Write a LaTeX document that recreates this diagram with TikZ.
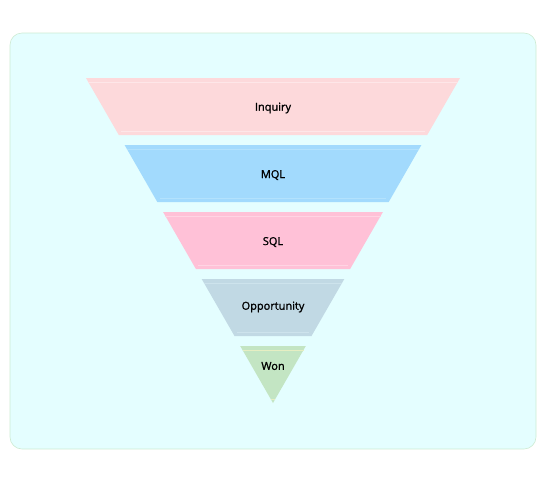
\documentclass[tikz,border=0pt]{standalone}
\usepackage{fontspec}
\setmainfont{Open Sans}
\newfontfamily\stagefont{Open Sans}[FakeBold=1.4]
\definecolor{panelbg}{HTML}{E4FEFF}
\definecolor{panelline}{HTML}{CDEBD2}
\definecolor{inqfill}{HTML}{FDD9DB}
\definecolor{inqline}{HTML}{FEE6E8}
\definecolor{mqlfill}{HTML}{A2DAFD}
\definecolor{mqlline}{HTML}{B3E2FD}
\definecolor{sqlfill}{HTML}{FFC1D7}
\definecolor{sqlline}{HTML}{FFD4E3}
\definecolor{oppfill}{HTML}{C1D9E4}
\definecolor{oppline}{HTML}{CDE3EC}
\definecolor{wonfill}{HTML}{C3E5C3}
\definecolor{wonline}{HTML}{E6EEC2}
\tikzset{
  stage/.style={draw=none},
  stripe/.style={line width=0.8pt},
  stagelabel/.style={font=\stagefont\fontsize{11}{13}\selectfont, text=black}
}
\begin{document}
\begin{tikzpicture}[x=1pt, y=-1pt]
\useasboundingbox (0,0) rectangle (546,483);
\draw[fill=panelbg, draw=panelline, line width=0.6pt, rounded corners=12pt] (10,33) rectangle (536,449);
% stages of the funnel
\fill[stage, inqfill] (86,78) -- (460,78) -- (427.2,135) -- (118.8,135) -- cycle;
\draw[stripe, inqline] (88.3,82) -- (457.7,82);
\draw[stripe, inqline] (121.1,131) -- (424.9,131);
\fill[stage, mqlfill] (124.6,145) -- (421.4,145) -- (388.7,202) -- (157.3,202) -- cycle;
\draw[stripe, mqlline] (126.9,149) -- (419.1,149);
\draw[stripe, mqlline] (159.6,198) -- (386.4,198);
\fill[stage, sqlfill] (163.1,212) -- (382.9,212) -- (350.1,269) -- (195.9,269) -- cycle;
\draw[stripe, sqlline] (165.4,216) -- (380.6,216);
\draw[stripe, sqlline] (198.2,265) -- (347.8,265);
\fill[stage, oppfill] (201.7,279) -- (344.3,279) -- (311.5,336) -- (234.5,336) -- cycle;
\draw[stripe, oppline] (204.0,283) -- (342.0,283);
\draw[stripe, oppline] (236.8,332) -- (309.2,332);
\fill[stage, wonfill] (240.2,346) -- (305.8,346) -- (273,403) -- cycle;
\draw[stripe, wonline] (242.5,350) -- (303.5,350);
\draw[stripe, wonline] (270.7,399) -- (275.3,399);
% labels
\node[stagelabel] (inquiry) at (273,108) {Inquiry};
\node[stagelabel] (mql) at (273,175) {MQL};
\node[stagelabel] (sql) at (273,242) {SQL};
\node[stagelabel] (opportunity) at (273,307) {Opportunity};
\node[stagelabel] (won) at (273,366) {Won};
\end{tikzpicture}
\end{document}
